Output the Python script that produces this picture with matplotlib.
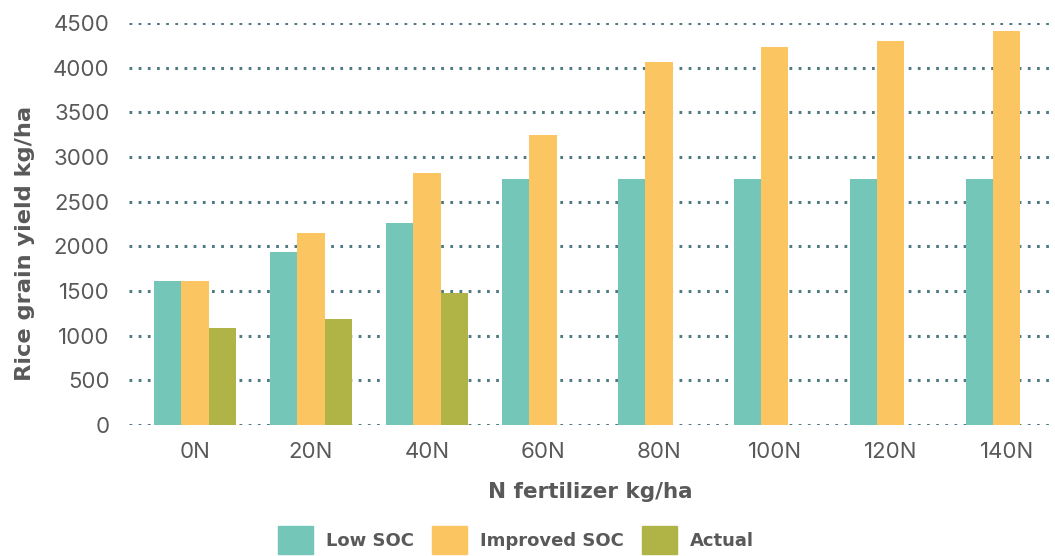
import numpy as np
import matplotlib.pyplot as plt
from matplotlib.patches import Patch

# Rice grain yield under different N rates and soil organic carbon levels
categories = ['0N', '20N', '40N', '60N', '80N', '100N', '120N', '140N']
low_soc = [1610, 1940, 2260, 2750, 2750, 2750, 2750, 2750]
improved_soc = [1610, 2150, 2820, 3250, 4060, 4230, 4300, 4410]
actual = [1090, 1190, 1480, None, None, None, None, None]

teal = '#74C6B9'
gold = '#FBC662'
olive = '#B0B346'
grey = '#595959'

plt.rcParams['font.family'] = ['Inter', 'DejaVu Sans']
bold_font = ['DejaVu Sans']

fig = plt.figure(figsize=(10.55, 5.56), dpi=100)
ax = fig.add_axes([129 / 1055, 1 - 425 / 556, (1055 - 129) / 1055, 402 / 556])

x = np.arange(len(categories))
w = 0.233

ax.bar(x - w, low_soc, w, color=teal, zorder=3)
ax.bar(x, improved_soc, w, color=gold, zorder=3)
act_x = [i + w for i, v in enumerate(actual) if v is not None]
act_v = [v for v in actual if v is not None]
ax.bar(act_x, act_v, w, color=olive, zorder=3)

ax.set_ylim(0, 4500)
ax.set_yticks(np.arange(0, 4501, 500))
ax.set_xlim(-0.569, 7.414)
ax.set_xticks(x)
ax.set_xticklabels(categories)

ax.yaxis.grid(True, linestyle=(0, (0.9, 2.1)), linewidth=2.2, color='#4E7A82', zorder=0)
ax.set_axisbelow(True)
for s in ax.spines.values():
    s.set_visible(False)
ax.tick_params(axis='both', length=0, labelsize=16, labelcolor=grey)
ax.tick_params(axis='y', pad=14)
ax.tick_params(axis='x', pad=12)

fig.text(25 / 1055, 1 - 243 / 556, 'Rice grain yield kg/ha', rotation=90,
         ha='center', va='center', fontsize=16.2, fontweight='bold', color=grey,
         family=bold_font)
fig.text(590 / 1055, 1 - 492 / 556, 'N fertilizer kg/ha',
         ha='center', va='center', fontsize=15.5, fontweight='bold', color=grey,
         family=bold_font)

handles = [Patch(color=teal), Patch(color=gold), Patch(color=olive)]
fig.legend(handles, ['Low SOC', 'Improved SOC', 'Actual'], loc='center',
           bbox_to_anchor=(516 / 1055, 1 - 540 / 556), ncol=3, frameon=False,
           prop={'size': 13, 'weight': 'bold', 'family': bold_font}, labelcolor=grey,
           handlelength=1.94, handleheight=1.94, handletextpad=0.72, columnspacing=1.0,
           borderpad=0, borderaxespad=0)

fig.savefig('out.png', dpi=100)
